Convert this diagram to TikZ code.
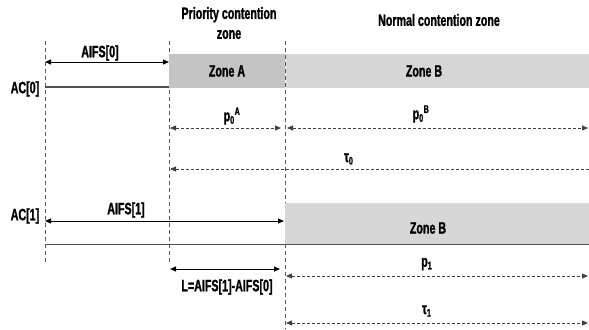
\documentclass[tikz,border=0pt]{standalone}
\usepackage{fontspec}
\setmainfont{Liberation Sans}[FakeStretch=0.65, BoldFeatures={FakeBold=1.3}]
\usepackage{xcolor}
\usetikzlibrary{arrows.meta}

\definecolor{zoneAgray}{RGB}{196,196,196}
\definecolor{zoneBgray}{RGB}{214,214,214}
\definecolor{trackgray}{RGB}{80,80,80}

% small sub/superscript in the narrow text font
\newcommand{\idxsize}{\fontsize{11}{11}\selectfont}
\newcommand{\symb}[3]{#1$_{\mbox{\idxsize #2}}$$^{\mbox{\idxsize #3}}$}

\begin{document}
\begin{tikzpicture}[
  x=1bp, y=-1bp,
  lbl/.style={font=\fontsize{16.5}{20}\selectfont\bfseries, inner sep=0pt, align=center},
  guide/.style={draw=black!65, thin, dash pattern=on 4bp off 3bp},
  track/.style={draw=trackgray, line width=1.3bp},
  dim/.style={{Triangle[length=6bp,width=5bp]}-{Triangle[length=6bp,width=5bp]}, line width=1bp, black},
  ddim/.style={{Triangle[length=6bp,width=5bp]}-{Triangle[length=6bp,width=5bp]}, black!75, line width=0.8bp, dash pattern=on 3bp off 2bp},
  ldim/.style={{Triangle[length=6bp,width=5bp]}-, black!75, line width=0.8bp, dash pattern=on 3bp off 2bp},
]
\useasboundingbox (0,0) rectangle (589,329);
\def\xa{45}      % AC start
\def\xb{169}     % end of AIFS[0]
\def\xc{285}     % end of AIFS[1]
\def\xe{589}

% ─── Zone headers ─────────────────────────────────────────────────────────
\node[lbl] (prio) at (229,23) {Priority contention\\zone};
\node[lbl] (norm) at (439,20) {Normal contention zone};

% ─── Guide lines ──────────────────────────────────────────────────────────
\coordinate (g0t) at (\xa,41);  \coordinate (g0b) at (\xa,262);
\coordinate (g1t) at (\xb,41);  \coordinate (g1b) at (\xb,262);
\coordinate (g2t) at (\xc,41);  \coordinate (g2b) at (\xc,329);
\draw[guide] (g0t) -- (g0b);
\draw[guide] (g1t) -- (g1b);
\draw[guide] (g2t) -- (g2b);

% ─── AC[0] row ────────────────────────────────────────────────────────────
\fill[zoneAgray] (\xb,54) rectangle (\xc,88);
\fill[zoneBgray] (\xc+1,54) rectangle (\xe,88);
\node[lbl] (zA) at (227,71) {Zone A};
\node[lbl] (zB0) at (424,71) {Zone B};

\node[lbl] (ac0) at (25,89) {AC[0]};
\coordinate (t0s) at (\xa,87);
\coordinate (t0e) at (\xb,87);
\draw[track] (t0s) -- (t0e);

\coordinate (a0l) at (\xa,62);
\coordinate (a0r) at (\xb,62);
\draw[dim] (a0l) -- (a0r);
\node[lbl] (aifs0) at (100,53) {AIFS[0]};

\coordinate (pAl) at (\xb+1,128);
\coordinate (pAr) at (281,128);
\draw[ddim] (pAl) -- (pAr);
\node[lbl] (p0A) at (232,116) {\symb{p}{0}{A}};

\coordinate (pBl) at (\xc+2,128);
\coordinate (pBr) at (588,128);
\draw[ddim] (pBl) -- (pBr);
\node[lbl] (p0B) at (421,114) {\symb{p}{0}{B}};

\coordinate (u0l) at (\xb+1,169);
\coordinate (u0r) at (\xe,169);
\draw[ldim] (u0l) -- (u0r);
\node[lbl] (tau0) at (349,159) {\symb{τ}{0}{}};

% ─── AC[1] row ────────────────────────────────────────────────────────────
\fill[zoneBgray] (\xc,203) rectangle (\xe,244);
\node[lbl] (zB1) at (428,228) {Zone B};

\node[lbl] (ac1) at (25,216) {AC[1]};
\coordinate (a1l) at (\xa,221);
\coordinate (a1r) at (\xc-1,221);
\draw[dim] (a1l) -- (a1r);
\node[lbl] (aifs1) at (126,210) {AIFS[1]};

\coordinate (t1s) at (\xa,244.5);
\coordinate (t1e) at (\xe,244.5);
\draw[track] (t1s) -- (t1e);

\coordinate (Ll) at (\xb+1,269);
\coordinate (Lr) at (280,269);
\draw[dim] (Ll) -- (Lr);
\node[lbl] (Ldef) at (227,287) {L=AIFS[1]-AIFS[0]};

\coordinate (p1l) at (\xc+1,276);
\coordinate (p1r) at (588,276);
\draw[ddim] (p1l) -- (p1r);
\node[lbl] (p1) at (427,264) {\symb{p}{1}{}};

\coordinate (u1l) at (\xc+1,323);
\coordinate (u1r) at (588,323);
\draw[ddim] (u1l) -- (u1r);
\node[lbl] (tau1) at (427,311) {\symb{τ}{1}{}};

\end{tikzpicture}
\end{document}
